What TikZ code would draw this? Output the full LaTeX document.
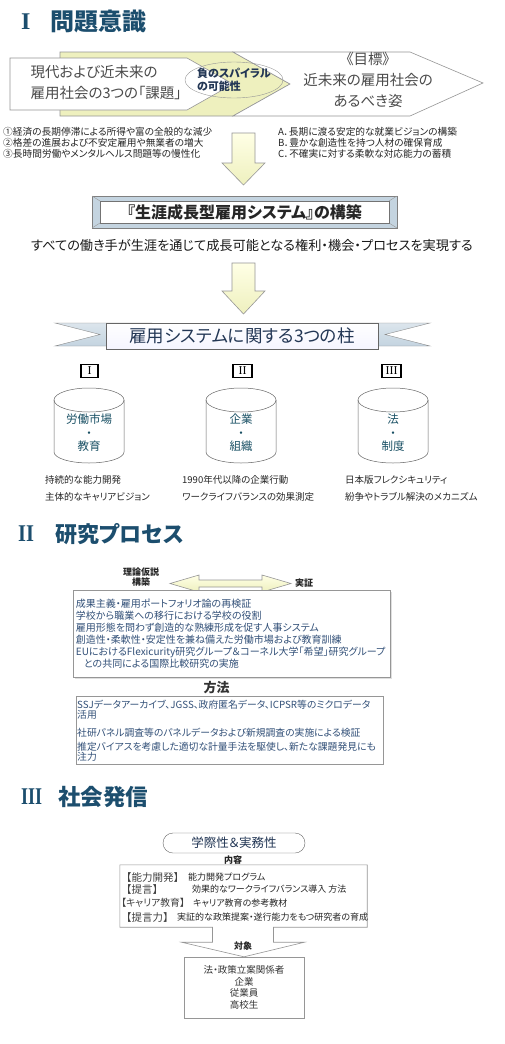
\documentclass[tikz,border=0pt]{standalone}
\usepackage{fontspec}
\setmainfont{Noto Sans CJK JP}[RawFeature=+palt]
\newfontfamily\jpfull{Noto Sans CJK JP}
\newfontfamily\romfont{Liberation Serif}
\usepackage{xcolor}
\usepackage{tikz}
\usetikzlibrary{shapes,arrows.meta,positioning,calc,shadows}
\definecolor{titleblue}{RGB}{28,78,110}
\definecolor{navytext}{RGB}{35,55,85}
\definecolor{lineblue}{RGB}{50,80,120}
\definecolor{pillarteal}{RGB}{25,80,100}
\definecolor{paleyellow}{RGB}{238,240,190}
\definecolor{ribbonblue}{RGB}{196,212,224}
\definecolor{edgegray}{RGB}{150,150,150}
\definecolor{textgray}{RGB}{75,75,75}
\newcommand{\fsz}[2]{\fontsize{#1}{#2}\selectfont}

\begin{document}
\begin{tikzpicture}[
    x=1pt, y=-1pt,
    secnum/.style={anchor=west, inner sep=0pt, font=\romfont\fsz{24}{24}\bfseries, text=titleblue},
    secttitle/.style={anchor=west, inner sep=0pt, font=\fsz{24}{24}\bfseries, text=titleblue},
    plate/.style={draw=edgegray, fill=white, line width=0.6pt},
    yellowplate/.style={draw=edgegray, fill=paleyellow, line width=0.6pt},
    blockarrow/.style={draw=edgegray, top color=white!90!yellow, bottom color=paleyellow, line width=0.6pt},
    listtext/.style={anchor=west, inner sep=0pt, align=left, font=\fsz{9.7}{11}, text=black!85},
    smalltext/.style={anchor=west, inner sep=0pt, align=left, font=\fsz{9.5}{17}, text=black!85},
    bluetext/.style={anchor=west, inner sep=0pt, align=left, text=lineblue},
    smalltag/.style={inner sep=0pt, font=\fsz{9}{9}\bfseries, text=black!85},
    numbox/.style={draw, line width=1.1pt, minimum height=13pt, inner sep=0pt, font=\romfont\fsz{12}{12}},
    cyl/.style={draw=black!60, line width=0.5pt},
    greybox/.style={draw=edgegray, fill=white, line width=0.6pt, inner sep=0pt},
    bracket/.style={anchor=west, inner sep=0pt, font=\jpfull\fsz{10.5}{10.5}, text=black!75},
    note/.style={anchor=west, inner sep=0pt, font=\fsz{9}{9}, text=black!85}
]
    \fill[white] (0,0) rectangle (504,1044);
    \useasboundingbox (0,0) rectangle (504,1044);

    \node[secnum] (num1) at (21,22) {I};
    \node[secttitle] (sec1) at (50,21) {問題意識};

    \draw[yellowplate] (60,52) -- (233,52) -- (290,84) -- (233,116) -- (60,116) -- cycle;
    \draw[plate] (10,58) -- (187,58) -- (233,84) -- (187,110) -- (10,110) -- cycle;
    \draw[plate] (233,52) -- (410,52) -- (483,83) -- (410,116) -- (233,116) -- (290,84) -- cycle;
    \node[draw=edgegray, ellipse, minimum width=98pt, minimum height=36pt] (spiral) at (234,80) {};
    \node[font=\fsz{11}{13}\bfseries, text=navytext, align=left] at (spiral) {負のスパイラル\\の可能性};
    \node[anchor=west, align=left, font=\fsz{14.5}{21}, text=textgray] (issues) at (27,83) {現代および近未来の\\雇用社会の3つの「課題」};
    \node[align=center, font=\fsz{14.5}{21}, text=textgray] (goal) at (368,80) {《目標》\\近未来の雇用社会の\\あるべき姿};

    \node[listtext] (issuelist) at (3,143) {①経済の長期停滞による所得や富の全般的な減少\\②格差の進展および不安定雇用や無業者の増大\\③長時間労働やメンタルヘルス問題等の慢性化};
    \node[listtext] (goallist) at (278,143) {A．長期に渡る安定的な就業ビジョンの構築\\B．豊かな創造性を持つ人材の確保育成\\C．不確実に対する柔軟な対応能力の蓄積};

    \draw[blockarrow] (232,133) -- (255,133) -- (255,163) -- (265,163) -- (243.5,185) -- (222,163) -- (232,163) -- cycle;

    \draw[fill=ribbonblue, draw=black!50] (92,196) rectangle (397,228);
    \draw[black!40] (92,196) -- (100,201) (397,196) -- (389,201) (92,228) -- (100,223) (397,228) -- (389,223);
    \node[draw=black!55, fill=white, minimum width=289pt, minimum height=22pt, inner sep=0pt, font=\fsz{16}{16}\bfseries, text=black!85] (system) at (244.5,212) {『生涯成長型雇用システム』の構築};
    \node[font=\fsz{13.2}{14}, text=black!90] (vision) at (252,245) {すべての働き手が生涯を通じて成長可能となる権利・機会・プロセスを実現する};

    \draw[blockarrow] (232,263) -- (255,263) -- (255,291) -- (265,291) -- (243.5,314) -- (222,291) -- (232,291) -- cycle;

    \draw[draw=black!45, top color=ribbonblue!60, bottom color=ribbonblue] (55,323) -- (152,323) -- (152,346) -- (55,346) -- (100,334.5) -- cycle;
    \draw[draw=black!45, top color=ribbonblue!60, bottom color=ribbonblue] (430,323) -- (330,323) -- (330,346) -- (430,346) -- (385,334.5) -- cycle;
    \node[draw=black!60, top color=white, bottom color=blue!4, minimum width=272pt, minimum height=26pt, inner sep=0pt, font=\fsz{17.5}{17.5}, text=navytext] (pillars) at (242,336) {雇用システムに関する3つの柱};

    \foreach \cx/\nm/\num/\w in {89.5/n1/I/17, 242.5/n2/II/19, 391.5/n3/III/19}
        \node[numbox, minimum width=\w pt] (\nm) at (\cx,371) {\num};

    \foreach \cx/\nm/\lbl in {89/market/{労働市場\\・\\教育}, 241/firm/{企業\\・\\組織}, 393/law/{法\\・\\制度}} {
        \draw[cyl] (\cx-35,400) -- (\cx-35,452) arc[start angle=180, end angle=0, x radius=35, y radius=11] -- (\cx+35,400);
        \draw[cyl] (\cx,400) ellipse [x radius=35, y radius=12];
        \node[font=\fsz{11.5}{13.5}, text=pillarteal, align=center] (\nm) at (\cx,433) {\lbl};
    }

    \node[smalltext] (marketnote) at (45,488.5) {持続的な能力開発\\主体的なキャリアビジョン};
    \node[smalltext] (firmnote) at (182,488.5) {1990年代以降の企業行動\\ワークライフバランスの効果測定};
    \node[smalltext] (lawnote) at (345,488.5) {日本版フレクシキュリティ\\紛争やトラブル解決のメカニズム};

    \node[secnum] (num2) at (18,534) {\scalebox{0.85}[1]{II}};
    \node[secttitle, font=\fsz{22}{22}\bfseries] (sec2) at (55,534) {研究プロセス};

    \node[smalltag, align=center, font=\fsz{9}{8.5}\bfseries] (theory) at (141,577) {理論仮説\\構築};
    \draw[blockarrow] (170,583.5) -- (199,575) -- (199,580) -- (262,580) -- (262,575) -- (291,583.5) -- (262,592) -- (262,587) -- (199,587) -- (199,592) -- cycle;
    \node[smalltag] (proof) at (304,583) {実証};

    \node[greybox, minimum width=317pt, minimum height=87pt, drop shadow={shadow xshift=1.5pt, shadow yshift=-1.5pt, opacity=0.25}] (themes) at (231.5,633.5) {};
    \node[bluetext, font=\fsz{10}{12}] (themelist) at ([xshift=3pt]themes.west) {成果主義・雇用ポートフォリオ論の再検証\\学校から職業への移行における学校の役割\\雇用形態を問わず創造的な熟練形成を促す人事システム\\創造性・柔軟性・安定性を兼ね備えた労働市場および教育訓練\\EUにおけるFlexicurity研究グループ＆コーネル大学「希望」研究グループ\\\hspace*{8pt}との共同による国際比較研究の実施};

    \node[font=\fsz{13}{13}\bfseries, text=black!80] (method) at (216.5,688) {方法};
    \node[greybox, minimum width=307pt, minimum height=68pt] (methods) at (229.5,730) {};
    \node[bluetext, font=\fsz{9.8}{7.8}, anchor=north west] (m1) at (77,700) {SSJデータアーカイブ、JGSS、政府匿名データ、ICPSR等のミクロデータ\\活用};
    \node[bluetext, font=\fsz{9.8}{9.8}] (m2) at (77,733) {社研パネル調査等のパネルデータおよび新規調査の実施による検証};
    \node[bluetext, font=\fsz{9.8}{7.8}, anchor=north west] (m3) at (77,742) {推定バイアスを考慮した適切な計量手法を駆使し、新たな課題発見にも\\注力};

    \node[secnum] (num3) at (21,797) {\scalebox{0.75}[1]{III}};
    \node[secttitle, font=\fsz{22.5}{22.5}\bfseries] (sec3) at (58,797) {社会発信};

    \node[draw=black!60, rounded corners=10pt, minimum width=142pt, minimum height=20pt, inner sep=0pt, font=\fsz{12.5}{12.5}, text=navytext] (interdisc) at (234,843) {学際性＆実務性};
    \node[smalltag] (contentlabel) at (233,860) {内容};
    \node[minimum width=247pt, minimum height=62pt, inner sep=0pt] (content) at (243.5,896) {};
    \node[draw=edgegray, minimum width=120pt, minimum height=61pt, inner sep=0pt] (audience) at (244,987.5) {};
    \draw[edgegray, line width=0.6pt] (content.north west) -- (content.north east) -- (content.south east) -- ($(content.south)+(30,0)$) -- ++(0,15) -- ++(31,0) -- (audience.north) -- ($(content.south)+(-62,15)$) -- ++(31,0) -- ++(0,-15) -- (content.south west) -- cycle;
    \node[smalltag] (targetlabel) at (243,946) {対象};

    \node[bracket] (c1) at (121,877) {【能力開発】};
    \node[note] at (188,877) {能力開発プログラム};
    \node[bracket] (c2) at (121,889) {【提言】};
    \node[note] at (192,889) {効果的なワークライフバランス導入 方法};
    \node[bracket, font=\fsz{9.8}{9.8}] (c3) at (121,903) {【キャリア教育】};
    \node[note] at (193,903) {キャリア教育の参考教材};
    \node[bracket] (c4) at (121,917) {【提言力】};
    \node[note] at (177,917) {実証的な政策提案・遂行能力をもつ研究者の育成};

    \node[align=center, font=\fsz{9.5}{11.7}, text=black!80] (audiencelist) at (audience) {法・政策立案関係者\\企業\\従業員\\高校生};
\end{tikzpicture}
\end{document}
